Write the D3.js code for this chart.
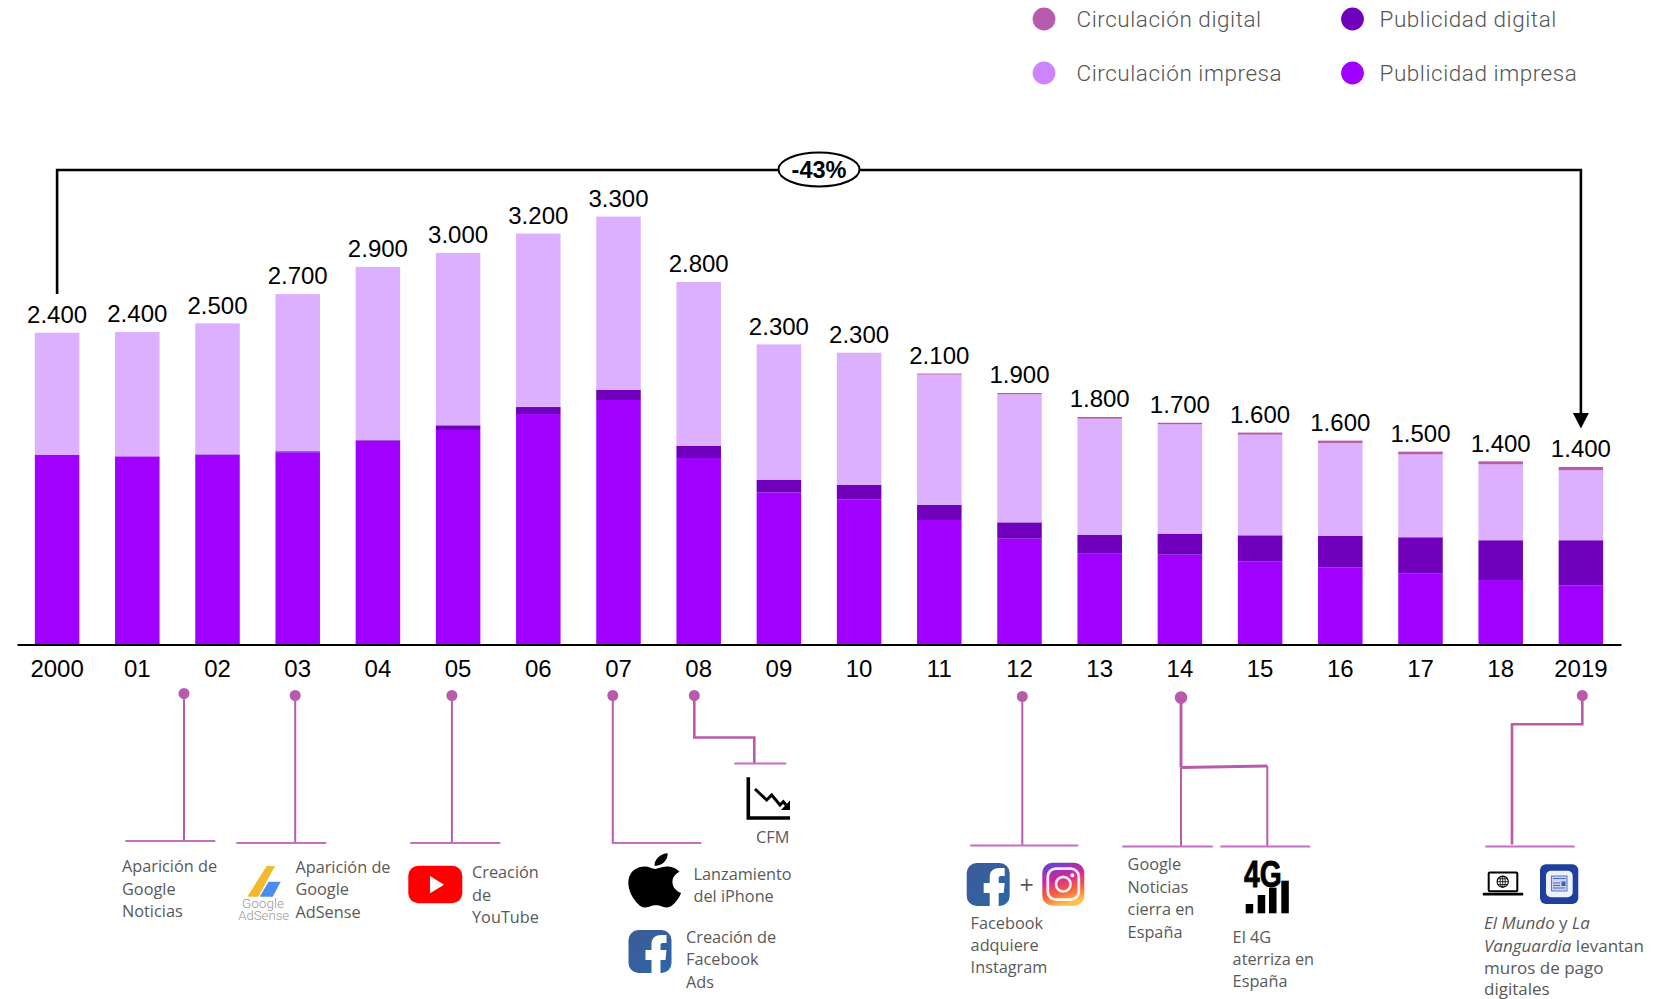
<!DOCTYPE html>
<html lang="es"><head><meta charset="utf-8">
<script src="https://cdn.jsdelivr.net/npm/d3@7/dist/d3.min.js"></script>
<style>html,body{margin:0;padding:0;background:#fff}svg{display:block}</style>
</head><body><svg id="c" width="1662" height="999"></svg>
<script>
const tickLabels = ["2000","01","02","03","04","05","06","07","08","09","10","11","12","13","14","15","16","17","18","2019"];
const totalLabels = ["2.400","2.400","2.500","2.700","2.900","3.000","3.200","3.300","2.800","2.300","2.300","2.100","1.900","1.800","1.700","1.600","1.600","1.500","1.400","1.400"];
const publicidadImpresa = [1460,1447,1457,1478,1568,1650,1773,1881,1434,1169,1113,956,812,696,689,635,589,542,493,450];
const publicidadDigital = [0,0,5,8,4,36,54,80,95,98,115,118,126,147,162,203,244,281,307,350];
const circulacionImpresa = [940,958,1010,1212,1335,1329,1337,1334,1262,1043,1016,1003,987,894,843,776,717,639,585,539];
const circulacionDigital = [0,0,0,0,0,0,0,0,0,0,1,8,10,13,12,16,18,21,23,26];
const seriesKeys = ["Publicidad impresa","Publicidad digital","Circulación impresa","Circulación digital"];
const barColors = ["#A000FF","#7000BB","#DCB0FF","#B85BAD"];
const legendColors = {"Circulación digital":"#B85BAD","Circulación impresa":"#CC85FF","Publicidad digital":"#7000BB","Publicidad impresa":"#A000FF"};

const svg = d3.select("#c");
const defs = svg.append("defs");
const x = d3.scaleBand().domain(tickLabels).range([17,1621]).paddingInner(0.445).paddingOuter(0.2225);
const y = d3.scaleLinear().domain([0,3400]).range([644,203]);
const rows = tickLabels.map((t,i)=>({t,
  [seriesKeys[0]]:publicidadImpresa[i],[seriesKeys[1]]:publicidadDigital[i],
  [seriesKeys[2]]:circulacionImpresa[i],[seriesKeys[3]]:circulacionDigital[i]}));
const stacked = d3.stack().keys(seriesKeys)(rows);

svg.append("g").selectAll("g").data(stacked).join("g").attr("fill",(d,i)=>barColors[i])
  .selectAll("rect").data(d=>d).join("rect")
  .attr("x",d=>x(d.data.t)).attr("width",x.bandwidth())
  .attr("y",d=>y(d[1])).attr("height",d=>y(d[0])-y(d[1]));

// value labels
const numFont = '"Liberation Sans",Arial,sans-serif';
svg.append("g").selectAll("text").data(rows).join("text")
  .attr("x",d=>x(d.t)+x.bandwidth()/2)
  .attr("y",(d,i)=>y(stacked[3][i][1])-9.8)
  .attr("text-anchor","middle").attr("font-family",numFont).attr("font-size",24).attr("fill","#000")
  .text((d,i)=>totalLabels[i]);

// axis
const axis = svg.append("g").attr("transform","translate(0,644.5)")
  .call(d3.axisBottom(x).tickSize(0).tickPadding(15.5));
axis.select(".domain").attr("stroke","#000").attr("stroke-width",2);
axis.selectAll("text").attr("font-family",numFont).attr("font-size",24).attr("fill","#000");

// legend
const legend = [["Circulación digital",1044,19,1076.5,27],["Publicidad digital",1352.5,19,1379.5,27],
                ["Circulación impresa",1044,73,1076.5,81],["Publicidad impresa",1352.5,73,1379.5,81]];
const lg = svg.append("g");
lg.selectAll("circle").data(legend).join("circle").attr("cx",d=>d[1]).attr("cy",d=>d[2]).attr("r",11.4).attr("fill",d=>legendColors[d[0]]);
lg.selectAll("text").data(legend).join("text").attr("x",d=>d[3]).attr("y",d=>d[4])
  .attr("font-family","Roboto,sans-serif").attr("font-size",22.5).attr("letter-spacing",0.55).attr("font-weight",300).attr("fill","#555").text(d=>d[0]);

// -43% bracket
const bx0 = x(tickLabels[0])+x.bandwidth()/2, bx1 = x(tickLabels[19])+x.bandwidth()/2;
svg.append("path").attr("d",`M${bx0},294V170H${bx1}V414`).attr("fill","none").attr("stroke","#000").attr("stroke-width",2.6);
svg.append("path").attr("d",`M${bx1-8},413H${bx1+8}L${bx1},428.5Z`).attr("fill","#000");
svg.append("ellipse").attr("cx",819).attr("cy",169.5).attr("rx",40.5).attr("ry",17).attr("fill","#fff").attr("stroke","#000").attr("stroke-width",2);
svg.append("text").attr("x",819).attr("y",178).attr("text-anchor","middle").attr("font-family",numFont).attr("font-weight",700).attr("font-size",23.5).text("-43%");

// timeline connectors
const pink="#B85BAD", pale="#C56FC2";
const conn = svg.append("g").attr("fill","none").attr("transform","translate(0.3,-0.5)");
const connectors = [
 {d:"M183.7,694V841",w:2},{d:"M294.9,696V843",w:2},{d:"M451.6,696V843",w:2},
 {d:"M612.5,696V843.5",w:2},{d:"M694,696V738H754V764",w:2.6},{d:"M1022,697V846",w:2},
 {d:"M1180.7,698V768",w:3},{d:"M1180.7,768L1267,766.5",w:3},{d:"M1180.7,768V846.5",w:2},{d:"M1267,766.5V846.5",w:2},
 {d:"M1582,696V724.7H1511.7V845",w:2.6}];
conn.selectAll("path").data(connectors).join("path").attr("d",d=>d.d).attr("stroke",pink).attr("stroke-width",d=>d.w);
const feet=[[125,215,841.5],[236,326,843.5],[410,500,843.5],[611.5,701,843.5],[734,786,764],[970,1078,846],[1122,1212.5,847],[1220,1310,847],[1485,1574.5,847]];
conn.selectAll("line").data(feet).join("line").attr("x1",d=>d[0]).attr("x2",d=>d[1]).attr("y1",d=>d[2]).attr("y2",d=>d[2]).attr("stroke",pale).attr("stroke-width",2);
const dots=[[183.7,694,5.5],[294.9,696,5.5],[451.6,696,5.5],[612.5,696,5.5],[694,696,5.5],[1022,697,5.5],[1180.7,698,6.3],[1582,696,5.5]];
svg.append("g").attr("transform","translate(0.3,-0.5)").selectAll("circle").data(dots).join("circle").attr("cx",d=>d[0]).attr("cy",d=>d[1]).attr("r",d=>d[2]).attr("fill",pink);

// notes
const notes=[
 {x:122,y:[872,894.5,917],l:["Aparición de","Google","Noticias"]},
 {x:295.4,y:[873,895,917.5],l:["Aparición de","Google","AdSense"]},
 {x:472,y:[878,901,923],l:["Creación","de","YouTube"]},
 {x:693.5,y:[880,902],l:["Lanzamiento","del iPhone"]},
 {x:756,y:[843],l:["CFM"]},
 {x:686,y:[943,965,987.5],l:["Creación de","Facebook","Ads"]},
 {x:970.6,y:[929,951,973],l:["Facebook","adquiere","Instagram"]},
 {x:1127.6,y:[870,893,915,937.5],l:["Google","Noticias","cierra en","España"]},
 {x:1232.6,y:[943,965,987],l:["El 4G","aterriza en","España"]},
];
const sans='"Open Sans",sans-serif';
const ng=svg.append("g").attr("font-family",sans).attr("font-size",16.3).attr("fill","#595959");
notes.forEach(n=>n.l.forEach((t,i)=>ng.append("text").attr("x",n.x).attr("y",n.y[i]).text(t)));
const mundo=[[["El Mundo",1],[" y ",0],["La",1]],[["Vanguardia",1],[" levantan",0]],[["muros de pago",0]],[["digitales",0]]];
[929,951.5,973.5,994.5].forEach((yy,i)=>{
  const t=ng.append("text").attr("x",1484).attr("y",yy).attr("font-size",17).style("white-space","pre");
  mundo[i].forEach(s=>t.append("tspan").attr("font-style",s[1]?"italic":"normal").text(s[0]));
});

// icons
// YouTube
svg.append("rect").attr("x",408.3).attr("y",865.7).attr("width",54).attr("height",37.5).attr("rx",10).attr("fill","#FF0000");
svg.append("path").attr("d","M430,876L444,884.7L430,893.3Z").attr("fill","#fff");
// AdSense
svg.append("path").attr("d","M266.7,866H275L258.3,896.7H247.3Z").attr("fill","#F4B82E");
svg.append("path").attr("d","M268.5,881.7H280.7L272.7,896.7H259.7Z").attr("fill","#4C8BF0");
svg.append("text").attr("x",263).attr("y",907.5).attr("text-anchor","middle").attr("font-family","Roboto,sans-serif").attr("font-weight",300).attr("font-size",13.5).attr("fill","#999").text("Google");
svg.append("text").attr("x",263.7).attr("y",919.5).attr("text-anchor","middle").attr("font-family","Roboto,sans-serif").attr("font-weight",300).attr("font-size",13.2).attr("fill","#999").text("AdSense");
// Apple
svg.append("path").attr("transform","translate(622.3,853.3) scale(2.7,2.26)").attr("fill","#000")
 .attr("d","M12.152 6.896c-.948 0-2.415-1.078-3.96-1.04-2.04.027-3.91 1.183-4.961 3.014-2.117 3.675-.546 9.103 1.519 12.09 1.013 1.454 2.208 3.09 3.792 3.039 1.52-.065 2.09-.987 3.935-.987 1.831 0 2.35.987 3.96.948 1.637-.026 2.676-1.48 3.676-2.948 1.156-1.688 1.636-3.325 1.662-3.415-.039-.013-3.182-1.221-3.22-4.857-.026-3.04 2.48-4.494 2.597-4.559-1.429-2.09-3.623-2.324-4.39-2.376-2-.156-3.675 1.09-4.61 1.09zM15.53 3.83c.843-1.012 1.4-2.427 1.245-3.83-1.207.052-2.662.805-3.532 1.818-.78.896-1.454 2.338-1.273 3.714 1.338.104 2.715-.688 3.559-1.701");
// Facebook
const fb=defs.append("linearGradient").attr("id","fb").attr("x1",0).attr("y1",0).attr("x2",1).attr("y2",1);
fb.append("stop").attr("offset",0).attr("stop-color","#3F5A98");
fb.append("stop").attr("offset",1).attr("stop-color","#2B66A6");
function facebook(tx,ty){
  const g=svg.append("g").attr("transform",`translate(${tx},${ty})`);
  g.append("rect").attr("width",43).attr("height",43).attr("rx",10).attr("fill","url(#fb)");
  g.append("path").attr("fill","#fff").attr("d","M23 43V30H17V20H23V14C23 8 27 5 33 5H38V13H34C32.5 13 32 14 32 15.5V20H38L37 30H32V43Z");
}
facebook(628.5,930); facebook(966.7,863);
// plus
svg.append("text").attr("x",1026.7).attr("y",894).attr("text-anchor","middle").attr("font-family",sans).attr("font-size",25).attr("fill","#595959").text("+");
// Instagram
const ig=defs.append("linearGradient").attr("id","ig").attr("x1",0.42).attr("y1",1).attr("x2",0.12).attr("y2",0);
[[0,"#FDBE4F"],[0.28,"#F5603A"],[0.6,"#D0269F"],[1,"#5A46D6"]].forEach(s=>ig.append("stop").attr("offset",s[0]).attr("stop-color",s[1]));
const ins=svg.append("g").attr("transform","translate(1042.3,862.7)");
ins.append("rect").attr("width",42).attr("height",43).attr("rx",10).attr("fill","url(#ig)");
ins.append("rect").attr("x",5.5).attr("y",6).attr("width",31).attr("height",31).attr("rx",8).attr("fill","none").attr("stroke","#fff").attr("stroke-opacity",.9).attr("stroke-width",2.8);
ins.append("circle").attr("cx",21).attr("cy",21.5).attr("r",7.3).attr("fill","none").attr("stroke","#fff").attr("stroke-opacity",.9).attr("stroke-width",2.6);
ins.append("circle").attr("cx",30).attr("cy",12.5).attr("r",2).attr("fill","#fff");
// CFM chart
svg.append("path").attr("d","M748.3,777.3V818H790").attr("fill","none").attr("stroke","#000").attr("stroke-width",3.6);
svg.append("path").attr("d","M755,789L766.7,800L771.7,795L780,805L783.3,801.7L787,806").attr("fill","none").attr("stroke","#000").attr("stroke-width",3);
svg.append("path").attr("d","M781,810H790V800.5Z").attr("fill","#000");
// 4G
svg.append("text").attr("x",1244).attr("y",886.7).attr("textLength",37.7).attr("lengthAdjust","spacingAndGlyphs").attr("font-family",numFont).attr("font-weight",700).attr("font-size",36).attr("stroke","#000").attr("stroke-width",.8).text("4G");
svg.append("g").selectAll("rect").data([[1245.7,904],[1257.7,895],[1269,887.7],[1281.3,880.7]]).join("rect")
  .attr("x",d=>d[0]).attr("y",d=>d[1]).attr("width",7.5).attr("height",d=>913.3-d[1]).attr("fill","#000");
// Laptop
const lap=svg.append("g");
lap.append("rect").attr("x",1488.7).attr("y",872.5).attr("width",28.6).attr("height",18.7).attr("rx",1).attr("fill","#fff").attr("stroke","#000").attr("stroke-width",2);
lap.append("rect").attr("x",1482.7).attr("y",892.8).attr("width",40.6).attr("height",2.8).attr("rx",1.2).attr("fill","#000");
lap.append("circle").attr("cx",1502.7).attr("cy",881.7).attr("r",5.6).attr("fill","none").attr("stroke","#000").attr("stroke-width",1.1);
lap.append("path").attr("d","M1497.1,881.7H1508.3M1502.7,876.1V887.3M1498,878.8H1507.4M1498,884.6H1507.4").attr("stroke","#000").attr("stroke-width",.8);
lap.append("ellipse").attr("cx",1502.7).attr("cy",881.7).attr("rx",2.6).attr("ry",5.6).attr("fill","none").attr("stroke","#000").attr("stroke-width",.8);
// News
const nw=svg.append("g");
nw.append("rect").attr("x",1540).attr("y",864.3).attr("width",38.3).attr("height",39.7).attr("rx",6).attr("fill","#1F3F9C");
nw.append("rect").attr("x",1546).attr("y",870.7).attr("width",26.7).attr("height",26.6).attr("rx",5).attr("fill","#EEF1F7");
nw.append("rect").attr("x",1551.5).attr("y",876).attr("width",15.5).attr("height",15).attr("fill","#C9D3EC").attr("stroke","#5B78C8").attr("stroke-width",1);
nw.append("path").attr("d","M1553,878.5H1565.5M1553,883H1560M1553,885.5H1560M1553,888H1565").attr("stroke","#4A68BC").attr("stroke-width",1.2);
nw.append("rect").attr("x",1561.5).attr("y",881.5).attr("width",4).attr("height",4.5).attr("fill","#3E5DB5");
</script></body></html>
